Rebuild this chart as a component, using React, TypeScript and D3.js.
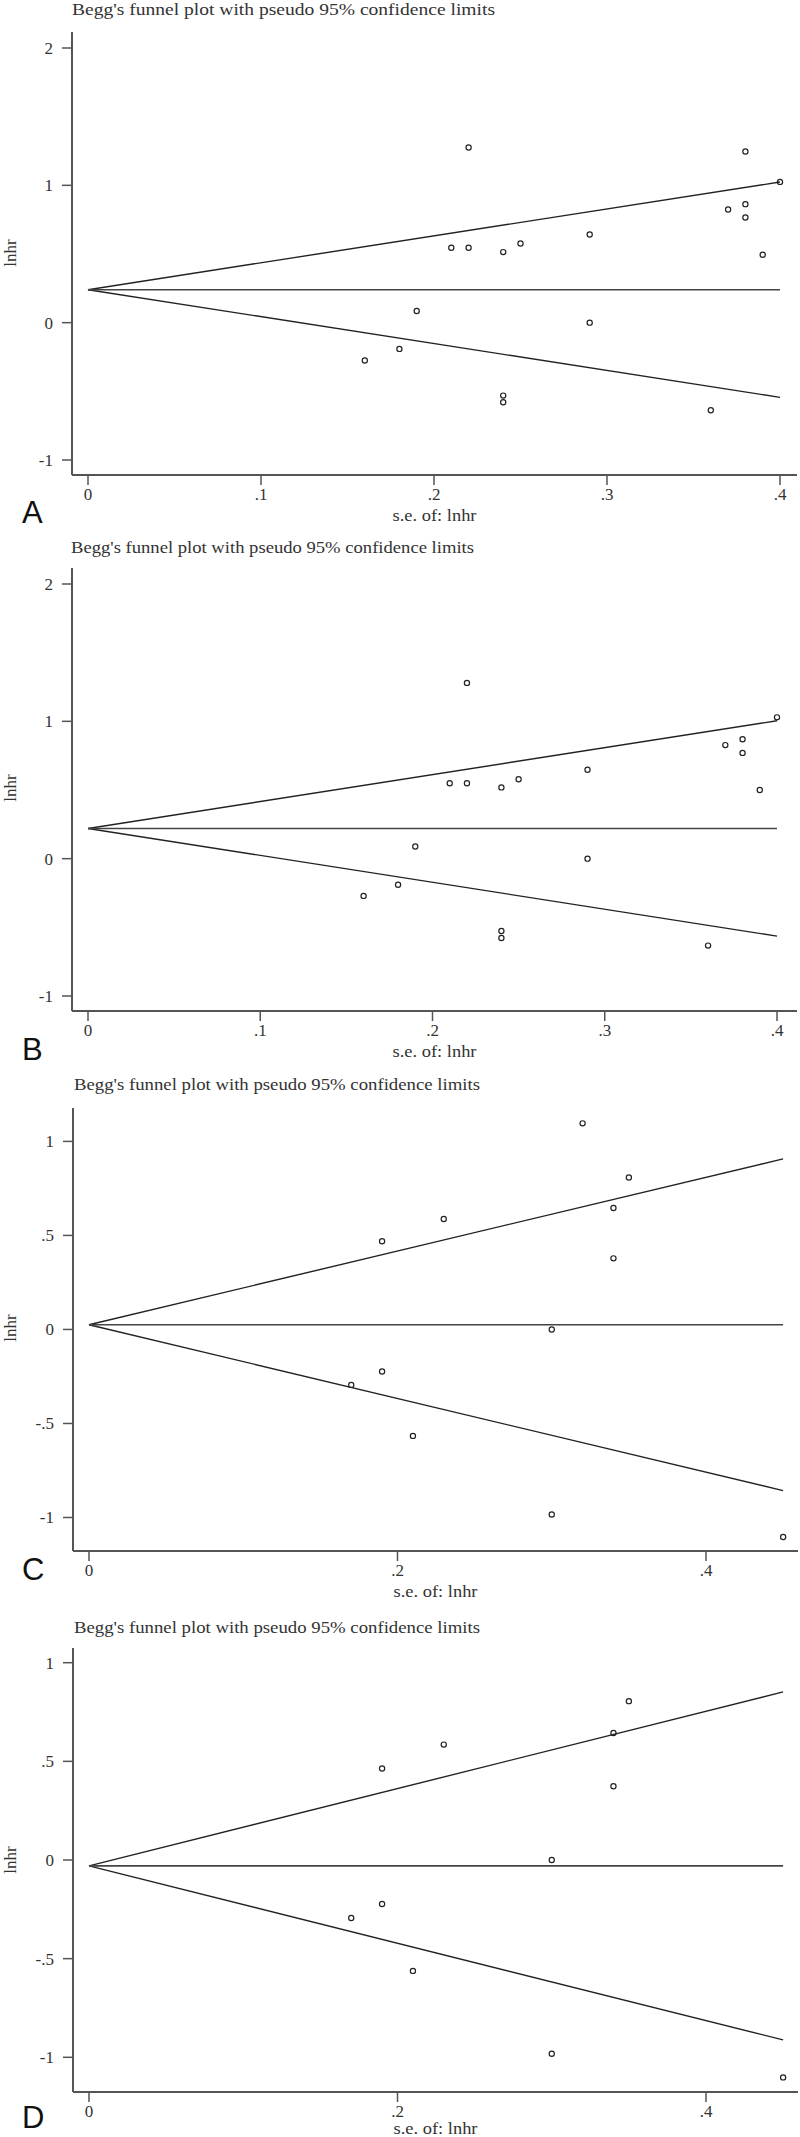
import React from 'react';
import * as d3 from 'd3';

// study data (s.e. of lnhr, lnhr)
const seA = [0.22, 0.38, 0.4, 0.37, 0.38, 0.38, 0.29, 0.21, 0.22, 0.24, 0.25, 0.39, 0.19, 0.29, 0.24, 0.24, 0.36, 0.18, 0.16];
const lnhrA = [1.275, 1.246, 1.025, 0.824, 0.863, 0.766, 0.642, 0.545, 0.545, 0.514, 0.577, 0.495, 0.085, 0.0, -0.531, -0.58, -0.638, -0.191, -0.276];

const seB = [0.22, 0.4, 0.37, 0.38, 0.38, 0.29, 0.21, 0.22, 0.24, 0.25, 0.39, 0.19, 0.29, 0.16, 0.18, 0.24, 0.24, 0.36];
const lnhrB = [1.28, 1.029, 0.827, 0.869, 0.77, 0.647, 0.549, 0.549, 0.519, 0.578, 0.5, 0.089, 0.0, -0.271, -0.19, -0.527, -0.578, -0.633];

const seC = [0.19, 0.19, 0.17, 0.32, 0.35, 0.34, 0.23, 0.34, 0.3, 0.21, 0.3, 0.45];
const lnhrC = [0.469, -0.224, -0.295, 1.096, 0.808, 0.646, 0.587, 0.378, 0.0, -0.566, -0.984, -1.104];

const seD = [0.19, 0.19, 0.17, 0.35, 0.34, 0.23, 0.34, 0.3, 0.21, 0.3, 0.45];
const lnhrD = [0.464, -0.223, -0.294, 0.805, 0.644, 0.585, 0.374, 0.0, -0.562, -0.982, -1.102];

// pooled estimate and largest s.e. of each plot
const pooled = [0.24, 0.22, 0.025, -0.03];
const maxSe = [0.4, 0.4, 0.45, 0.45];

const yTicksAB = [2, 1, 0, -1];
const yTicksCD = [1, 0.5, 0, -0.5, -1];
const xTicksAB = [0, 0.1, 0.2, 0.3, 0.4];
const xTicksCD = [0, 0.2, 0.4];

const panelLetters = ['A', 'B', 'C', 'D'];
const titleText = "Begg's funnel plot with pseudo 95% confidence limits";

// Stata-style tick labels: .5, -.5
const fmt = (v: number) => (v === 0 ? '0' : String(v).replace(/^(-?)0\./, '$1.'));

const layouts = [
  { xr: [88, 780], yd: [-1, 2], yr: [460, 48], top: 32, bottom: 475, left: 72, right: 797, titleY: 15, titleX: 72, titleW: 423, yLabY: 253, letterY: 523, xLabY: 521 },
  { xr: [88, 777], yd: [-1, 2], yr: [996, 584], top: 568, bottom: 1011, left: 72, right: 797, titleY: 553, titleX: 71, titleW: 403, yLabY: 788, letterY: 1060, xLabY: 1057 },
  { xr: [89, 706], yd: [-1, 1], yr: [1517.5, 1141.4], top: 1108, bottom: 1551, left: 73, right: 798, titleY: 1090, titleX: 74, titleW: 406, yLabY: 1328, letterY: 1580, xLabY: 1597 },
  { xr: [89, 706], yd: [-1, 1], yr: [2057.3, 1662.7], top: 1648, bottom: 2092, left: 73, right: 798, titleY: 1633, titleX: 74, titleW: 406, yLabY: 1860, letterY: 2128, xLabY: 2134 },
];

const seList = [seA, seB, seC, seD];
const lnhrList = [lnhrA, lnhrB, lnhrC, lnhrD];
const yTickList = [yTicksAB, yTicksAB, yTicksCD, yTicksCD];
const xTickList = [xTicksAB, xTicksAB, xTicksCD, xTicksCD];

const serif = '"Liberation Serif", "Times New Roman", serif';

const Panel = ({ i }: { i: number }) => {
  const L = layouts[i];
  const x = d3.scaleLinear().domain([0, 0.4]).range(L.xr);
  const y = d3.scaleLinear().domain(L.yd).range(L.yr);
  const p = pooled[i];
  const m = maxSe[i];
  const line = d3.line<[number, number]>().x((d) => x(d[0])).y((d) => y(d[1]));
  const upper = line([[0, p], [m, p + 1.96 * m]]);
  const lower = line([[0, p], [m, p - 1.96 * m]]);
  const mid = line([[0, p], [m, p]]);
  const se = seList[i];
  const ln = lnhrList[i];

  return (
    <g>
      <text x={L.titleX} y={L.titleY} fontFamily={serif} fontSize={17} fill="#333"
        textLength={L.titleW} lengthAdjust="spacingAndGlyphs">{titleText}</text>

      {/* axes */}
      <line x1={L.left} x2={L.left} y1={L.top} y2={L.bottom} stroke="#555" strokeWidth={2} />
      <line x1={L.left} x2={L.right} y1={L.bottom} y2={L.bottom} stroke="#555" strokeWidth={2} />

      {yTickList[i].map((t) => (
        <g key={'y' + t}>
          <line x1={L.left - 10} x2={L.left} y1={y(t)} y2={y(t)} stroke="#555" strokeWidth={1.5} />
          <text x={L.left - 19} y={y(t)} dy="0.35em" textAnchor="end" fontFamily={serif} fontSize={17} fill="#333">{fmt(t)}</text>
        </g>
      ))}
      {xTickList[i].map((t) => (
        <g key={'x' + t}>
          <line x1={x(t)} x2={x(t)} y1={L.bottom} y2={L.bottom + 10} stroke="#555" strokeWidth={1.5} />
          <text x={x(t)} y={L.bottom + 25} textAnchor="middle" fontFamily={serif} fontSize={17} fill="#333">{fmt(t)}</text>
        </g>
      ))}

      <text transform={`translate(16,${L.yLabY}) rotate(-90)`} textAnchor="middle" fontFamily={serif} fontSize={17} fill="#333">lnhr</text>
      <text x={(L.left + L.right) / 2} y={L.xLabY} textAnchor="middle" fontFamily={serif} fontSize={17} fill="#333"
        textLength={84} lengthAdjust="spacingAndGlyphs">s.e. of: lnhr</text>

      <text x={22} y={L.letterY} fontFamily='"Liberation Sans", Arial, sans-serif' fontSize={31} fill="#111">{panelLetters[i]}</text>

      {/* funnel */}
      <path d={upper || ''} stroke="#222" strokeWidth={1.4} fill="none" />
      <path d={lower || ''} stroke="#222" strokeWidth={1.4} fill="none" />
      <path d={mid || ''} stroke="#444" strokeWidth={1.6} fill="none" />

      {se.map((s, k) => (
        <circle key={k} cx={x(s)} cy={y(ln[k])} r={2.6} fill="none" stroke="#222" strokeWidth={1.2} />
      ))}
    </g>
  );
};

export default function App() {
  return (
    <svg width={800} height={2137} style={{ position: 'absolute', left: 0, top: 0, background: '#fff' }}>
      <rect width={800} height={2137} fill="#fff" />
      {[0, 1, 2, 3].map((i) => (
        <Panel key={i} i={i} />
      ))}
    </svg>
  );
}
